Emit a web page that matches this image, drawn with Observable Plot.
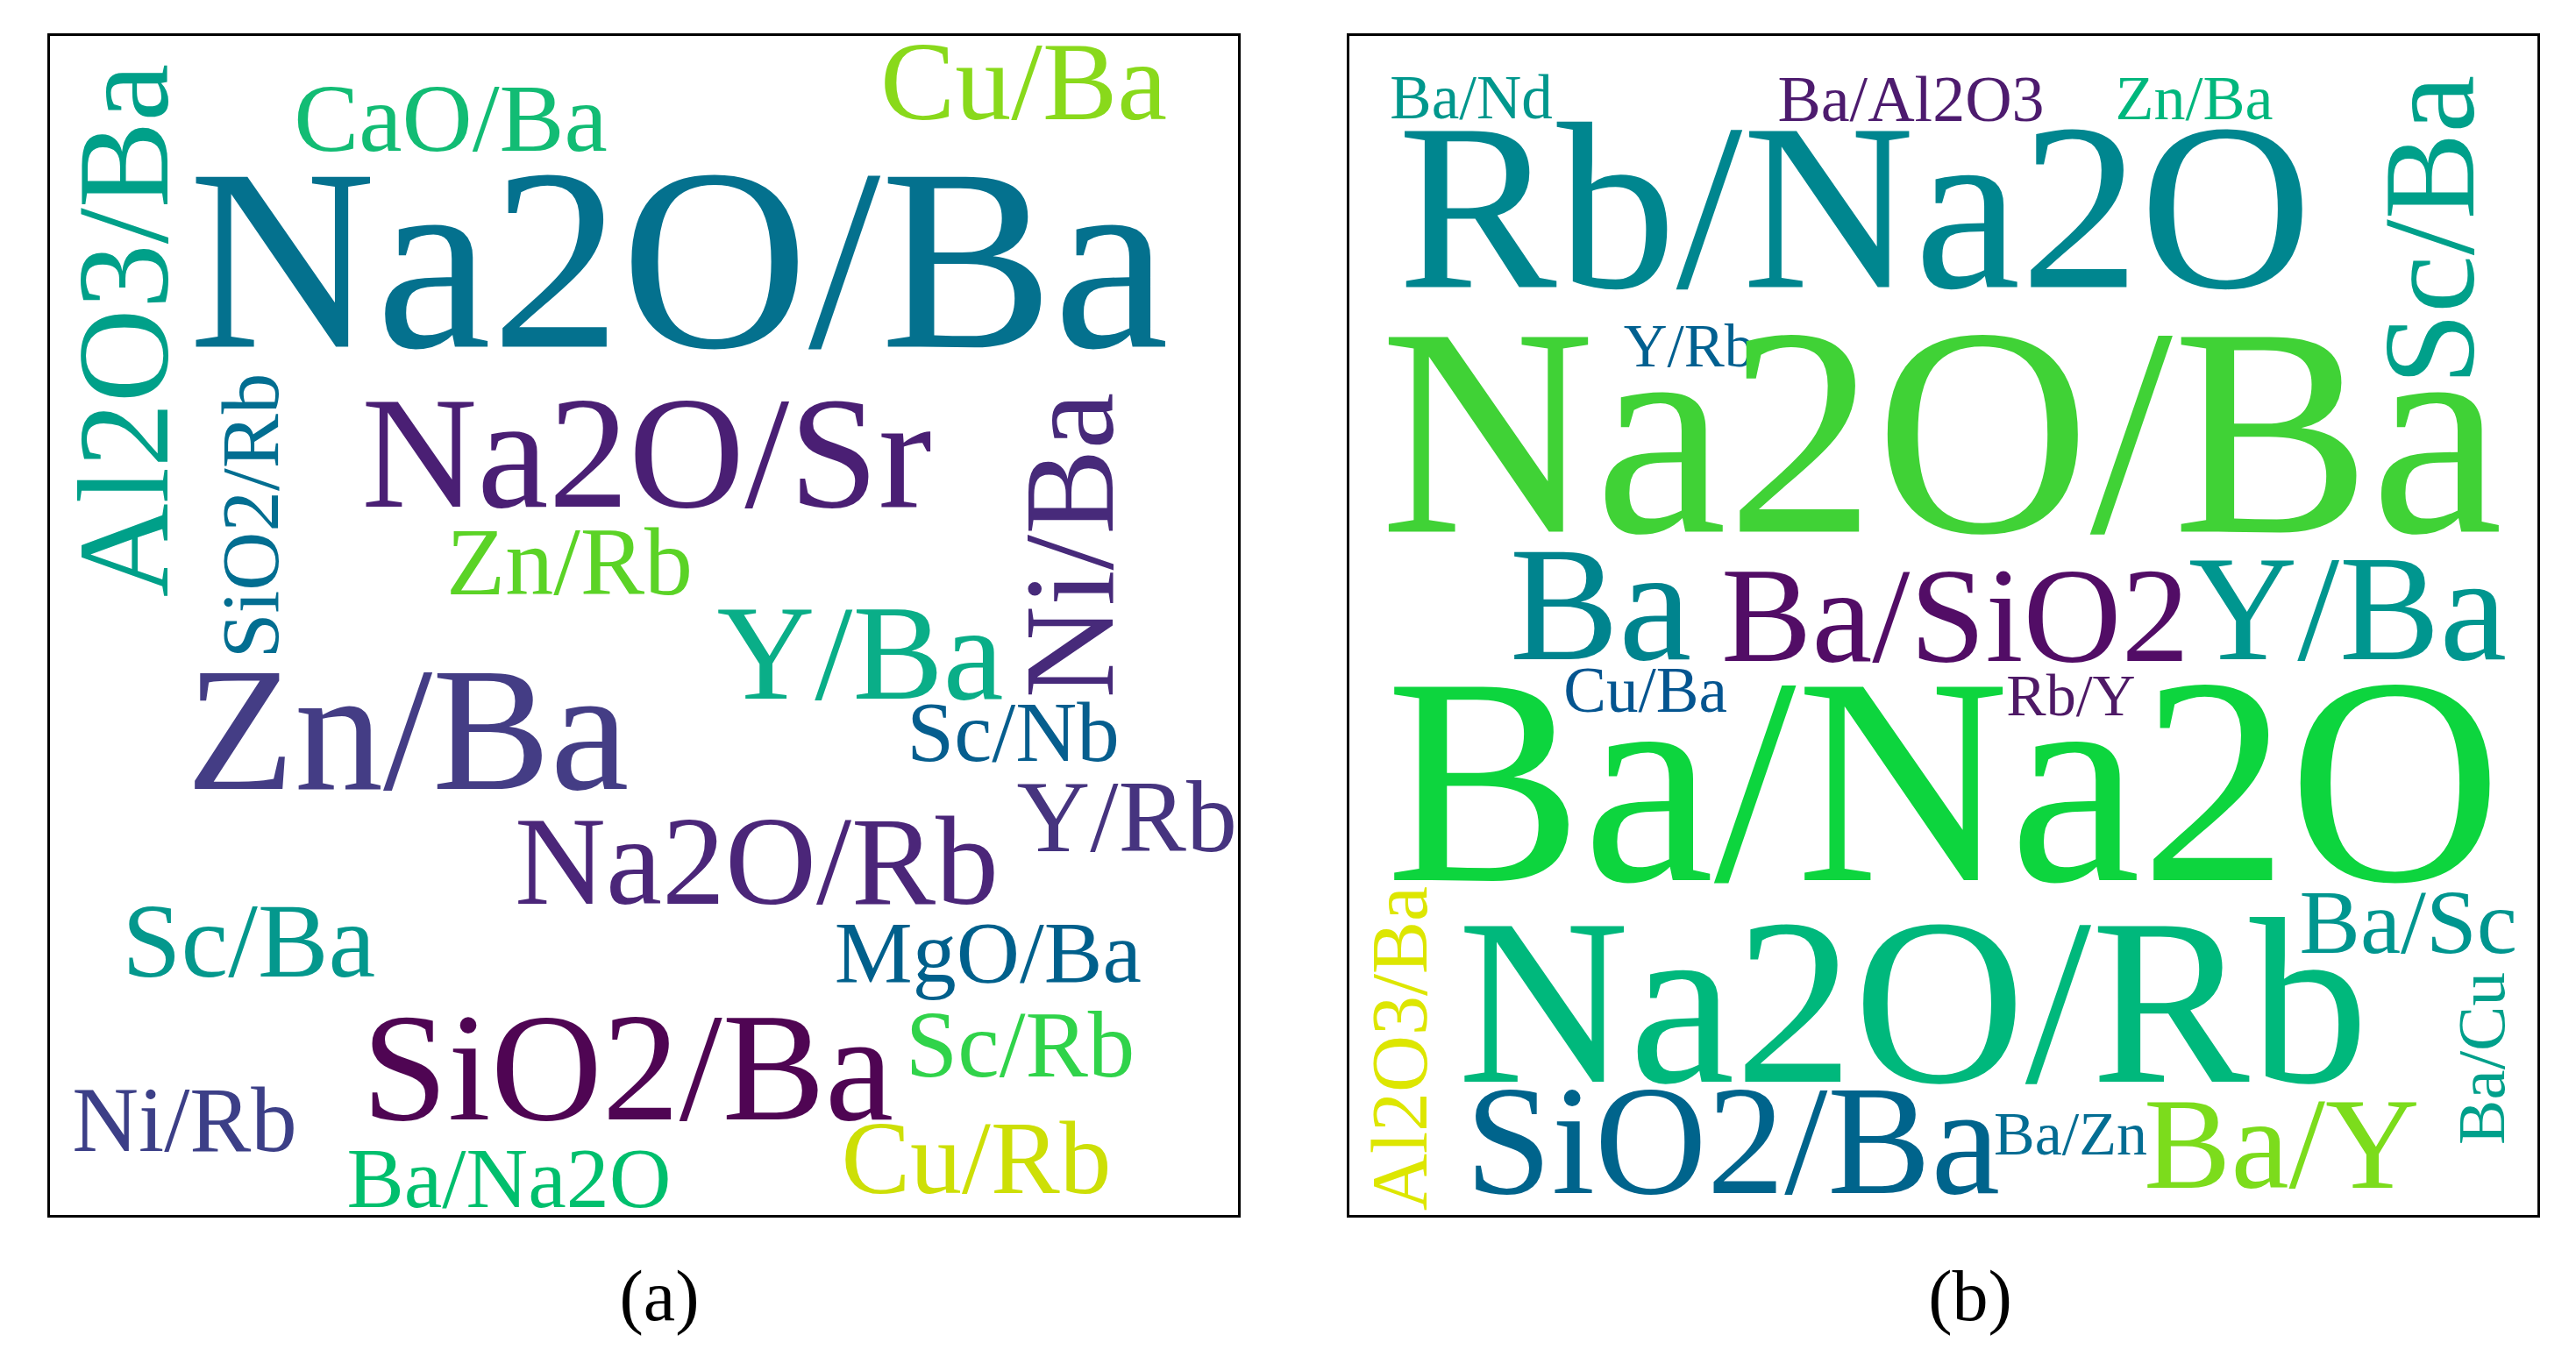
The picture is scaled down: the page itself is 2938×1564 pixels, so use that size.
<!DOCTYPE html>
<html>
<head>
<meta charset="utf-8">
<script src="https://cdn.jsdelivr.net/npm/d3@7"></script>
<script src="https://cdn.jsdelivr.net/npm/@observablehq/plot@0.6"></script>
<style>
  body { margin: 0; background: #ffffff; }
  #fig { position: relative; width: 2938px; height: 1564px; background: #ffffff; font-family: "Liberation Serif", serif; }
  .panel { position: absolute; top: 37px; width: 1362px; height: 1352px; }
  .cap { position: absolute; top: 1438px; width: 300px; text-align: center; font-size: 82px; line-height: 82px; color: #000; font-family: "Liberation Serif", serif; }
</style>
</head>
<body>
<div id="fig"></div>
<script>
// ---- Panel (a) ----
const wordsA = ["Na2O/Ba","CaO/Ba","Cu/Ba","Al2O3/Ba","SiO2/Rb","Na2O/Sr","Zn/Rb","Ni/Ba","Y/Ba","Zn/Ba",
                "Sc/Nb","Y/Rb","Na2O/Rb","Sc/Ba","MgO/Ba","Sc/Rb","SiO2/Ba","Ni/Rb","Ba/Na2O","Cu/Rb"];
const xA = [718.5, 458.5, 1112, 135, 261, 682, 594, 1213, 925.5, 409.5,
            1100, 1229.75, 807.5, 228.3, 1071.3, 1108, 660.5, 155, 525, 1058];
const yA = [356, 132, 96, 337.5, 549, 538, 638, 582.5, 757, 860,
            828, 931, 991, 1074, 1080, 1188, 1237, 1273.5, 1337, 1321];
const sizeA = [296, 111, 128, 148, 93, 183, 110, 146, 155, 202,
               97, 116, 144, 121, 100, 107, 176, 105, 98, 118];
const rotA = [0, 0, 0, -90, -90, 0, 0, -90, 0, 0,
              0, 0, 0, 0, 0, 0, 0, 0, 0, 0];
const colorA = ["#04718e","#12bc74","#89d91b","#00a089","#026e91","#4a1f74","#5bd326","#472a7a","#0aae88","#443d85",
                "#065e8e","#46347f","#4b2679","#04988d","#00608c","#30d34a","#4f0553","#3c3f87","#00bf6d","#cddf06"];

// ---- Panel (b) ----
const wordsB = ["Ba/Nd","Ba/Al2O3","Zn/Ba","Rb/Na2O","Sc/Ba","Y/Rb","Na2O/Ba","Ba","Ba/SiO2","Y/Ba",
                "Cu/Ba","Rb/Y","Ba/Na2O","Al2O3/Ba","Na2O/Rb","Ba/Sc","Ba/Cu","SiO2/Ba","Ba/Zn","Ba/Y"];
const xB = [140.5, 642, 965, 578, 1283, 389, 676.8, 288, 692.5, 1140,
            339, 824.5, 679.4, 89.8, 644.4, 1209.3, 1318, 438.6, 824, 1064.8];
const yB = [95, 98, 96, 288, 223, 378.5, 567, 712, 714.6, 712,
            772.6, 776, 964.6, 1156.5, 1194.5, 1047, 1168, 1321, 1277, 1315];
const sizeB = [71, 74, 72, 272, 148, 69, 339, 187, 155, 172,
               73, 68, 337, 90, 271, 104, 77, 177, 70, 149];
const rotB = [0, 0, 0, 0, -90, 0, 0, 0, 0, 0,
              0, 0, 0, -90, 0, 0, -90, 0, 0, 0];
const colorB = ["#00978d","#4d1b6e","#00b77d","#00868f","#00a08a","#006090","#40d236","#00848e","#520d66","#00968f",
                "#045590","#4e1966","#0dd53e","#dde600","#00b87c","#00968f","#00a08b","#00648c","#036d93","#7cdc1c"];

const captions = ["(a)", "(b)"];

const PANEL_W = 1358, PANEL_H = 1348;

function table(words, xs, ys, sizes, rots, colors) {
  return words.map((w, i) => ({word: w, x: xs[i], y: ys[i], size: sizes[i], rot: rots[i], color: colors[i]}));
}

function cloud(data) {
  return Plot.plot({
    width: PANEL_W + 4,
    height: PANEL_H + 4,
    margin: 2,
    style: {background: "#ffffff", fontFamily: "Liberation Serif", overflow: "visible"},
    x: {domain: [0, PANEL_W], range: [2, PANEL_W + 2], axis: null},
    y: {domain: [0, PANEL_H], range: [2, PANEL_H + 2], axis: null},
    color: {type: "identity"},
    marks: [
      Plot.text(data, {
        x: "x", y: "y", text: "word",
        fontSize: d => d.size,
        rotate: d => d.rot,
        fill: d => d.color,
        textAnchor: "middle",
        lineAnchor: "bottom",
        fontFamily: "Liberation Serif"
      }),
      Plot.frame({stroke: "#000000", strokeWidth: 3})
    ]
  });
}

const fig = document.getElementById("fig");
const panels = [
  {left: 53, data: table(wordsA, xA, yA, sizeA, rotA, colorA), cap: captions[0], capX: 752},
  {left: 1535, data: table(wordsB, xB, yB, sizeB, rotB, colorB), cap: captions[1], capX: 2247}
];
for (const p of panels) {
  const div = document.createElement("div");
  div.className = "panel";
  div.style.left = p.left + "px";
  div.appendChild(cloud(p.data));
  fig.appendChild(div);
  const c = document.createElement("div");
  c.className = "cap";
  c.style.left = (p.capX - 150) + "px";
  c.textContent = p.cap;
  fig.appendChild(c);
}
</script>
</body>
</html>
